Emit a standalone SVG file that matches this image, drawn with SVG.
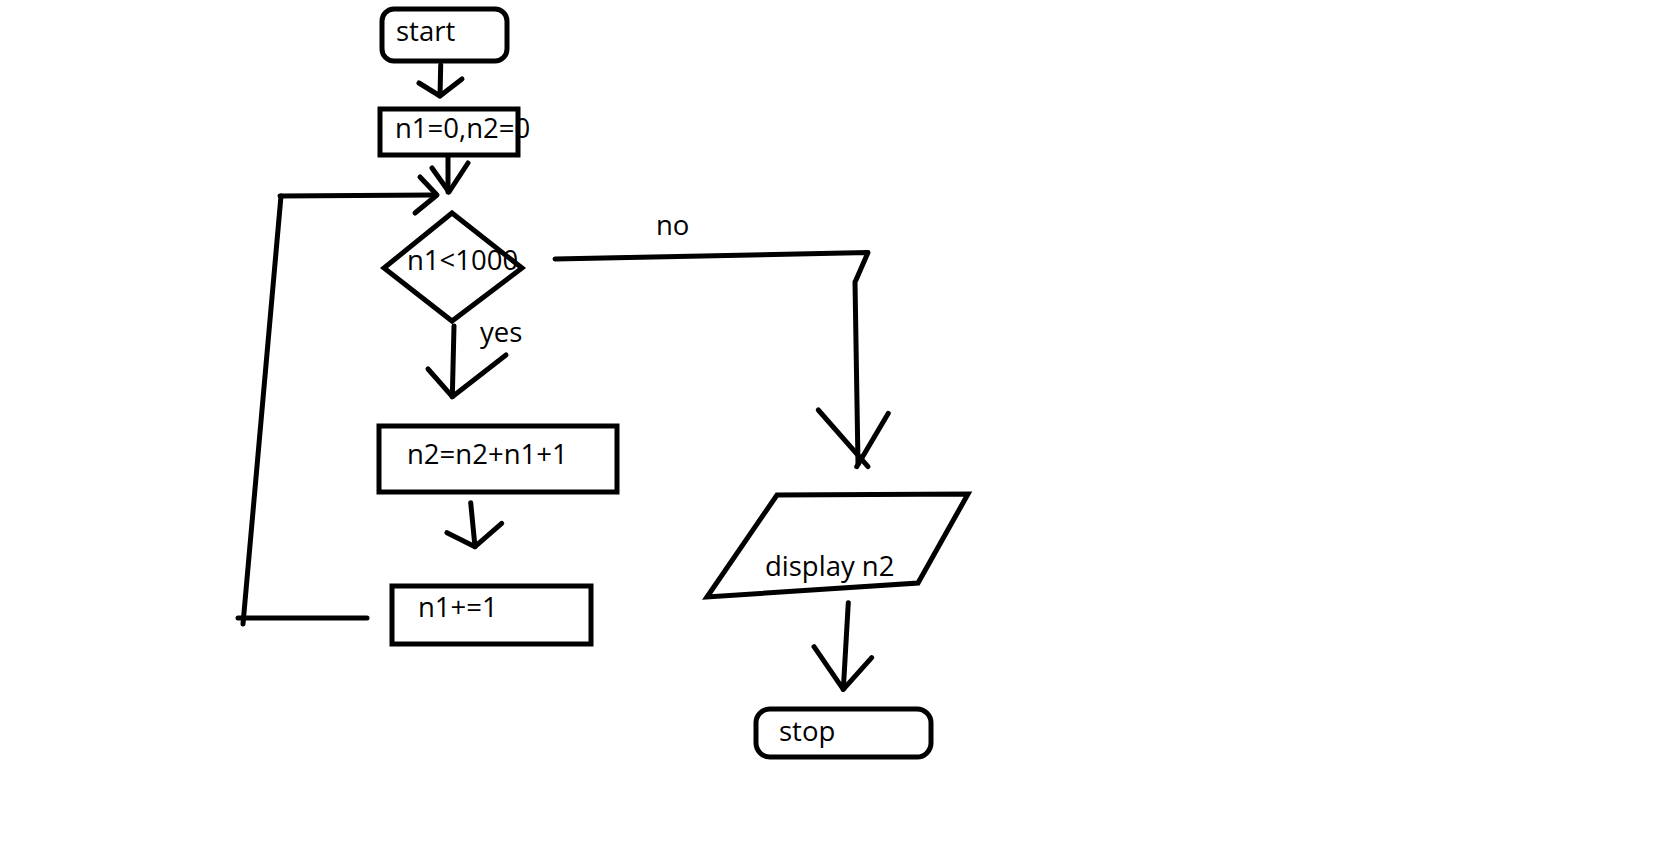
<svg xmlns="http://www.w3.org/2000/svg" width="1675" height="863" viewBox="0 0 1675 863">
<style>
.s{fill:none;stroke:#000;stroke-width:5;stroke-linecap:round;stroke-linejoin:round}
.b{fill:#fff;stroke:#000;stroke-width:5}
.t{font-family:"Open Sans","Liberation Sans",sans-serif;font-size:27.5px;fill:#000}
</style>
<rect width="1675" height="863" fill="#fff"/>
<g id="connectors">
<line class="s" x1="440.7" y1="65" x2="440" y2="96"/>
<polyline class="s" points="419,83 440,96 462,79"/>
<line class="s" x1="448" y1="151" x2="448" y2="192"/>
<polyline class="s" points="432,168 449,192 468,163"/>
<line class="s" x1="238" y1="618" x2="367" y2="618"/>
<line class="s" x1="243" y1="624" x2="281" y2="196"/>
<line class="s" x1="280" y1="196" x2="434" y2="195"/>
<polyline class="s" points="420,177 437,195 415,213"/>
<line class="s" x1="454" y1="326" x2="452.3" y2="396.7"/>
<polyline class="s" points="428,369 452.3,396.7 506,355"/>
<line class="s" x1="470.7" y1="502.7" x2="475" y2="546.7"/>
<polyline class="s" points="447,532.7 475,546.7 501.7,523.3"/>
<polyline class="s" points="555,259 868,252.5 856,280"/>
<line class="s" x1="855" y1="282" x2="858" y2="464"/>
<line class="s" x1="818.3" y1="410" x2="868" y2="466.7"/>
<line class="s" x1="888.3" y1="413.3" x2="856.7" y2="466.7"/>
<line class="s" x1="848.3" y1="602.7" x2="843.3" y2="689.3"/>
<polyline class="s" points="814,646.7 843.3,689.3 871.7,657.7"/>
<text class="t" x="480" y="342">yes</text>
<text class="t" x="656" y="235">no</text>
</g>
<g id="start">
<rect class="b" x="382" y="9" width="125" height="52" rx="12"/>
<text class="t" x="396" y="41">start</text>
</g>
<g id="init">
<rect class="b" x="380" y="109" width="138" height="46" stroke-width="5.5"/>
<text class="t" x="395" y="138">n1=0,n2=0</text>
</g>
<g id="decision">
<polygon class="b" points="452,213 522,268 452,321 384,268"/>
<text class="t" x="407" y="270">n1&lt;1000</text>
</g>
<g id="sum">
<rect class="b" x="379" y="426" width="238" height="66"/>
<text class="t" x="407" y="464">n2=n2+n1+1</text>
</g>
<g id="inc">
<rect class="b" x="392" y="586" width="199" height="58"/>
<text class="t" x="418" y="617">n1+=1</text>
</g>
<g id="display">
<polygon class="b" points="777,495 968,494 918,583 707,597"/>
<text class="t" x="765" y="576">display n2</text>
</g>
<g id="stop">
<rect class="b" x="756" y="709" width="175" height="48" rx="14"/>
<text class="t" x="779" y="741">stop</text>
</g>
</svg>
